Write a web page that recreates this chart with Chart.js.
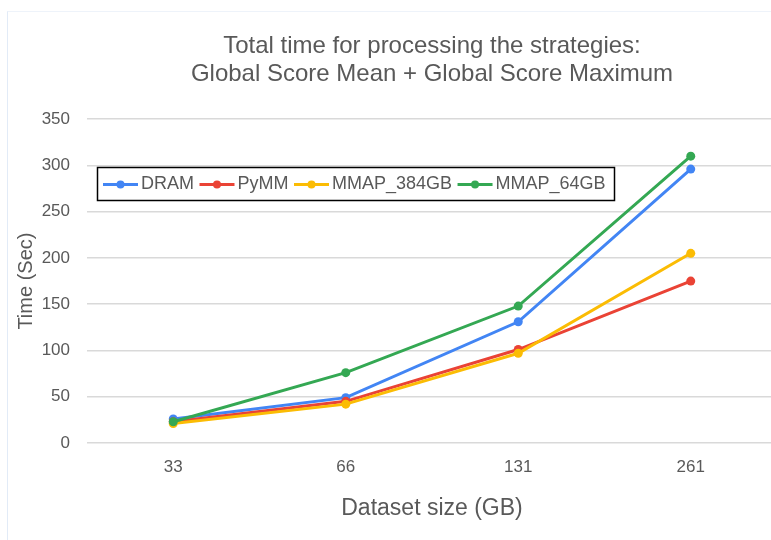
<!DOCTYPE html>
<html>
<head>
<meta charset="utf-8">
<script src="https://cdn.jsdelivr.net/npm/chart.js@4"></script>
<style>
  html, body { margin: 0; padding: 0; background: #fff; overflow: hidden; }
  #wrap { position: relative; width: 771px; height: 540px; overflow: hidden; }
  #frame { position: absolute; left: 7px; top: 11px; right: -2px; bottom: -2px;
           border-left: 1px solid #e2ebf7; border-top: 1px solid #eef3fa; pointer-events: none; }
</style>
</head>
<body>
<div id="wrap">
  <canvas id="timeChart" width="800" height="540"></canvas>
  <div id="frame"></div>
</div>
<script>
const sizes = ['33', '66', '131', '261'];
const dram = [26, 49, 131, 296];
const pymm = [23, 45, 101, 175];
const mmap384 = [21, 42, 97, 205];
const mmap64 = [23, 76, 148, 310];

const FONT = "'Liberation Sans', Arial, sans-serif";
const GREY = '#595959';

function series(label, data, color, order) {
    return {
        label, data, order,
        borderColor: color,
        backgroundColor: color,
        borderWidth: 3,
        pointRadius: 4.5,
        pointBorderWidth: 0,
        tension: 0
    };
}

// legend drawn in a box inside the plot, like the original
const boxLegend = {
    id: 'boxLegend',
    afterDatasetsDraw(chart) {
        const ctx = chart.ctx;
        const x0 = 97.5, y0 = 167.5, w = 517, h = 33;
        ctx.save();
        ctx.strokeStyle = '#000';
        ctx.lineWidth = 1.5;
        ctx.strokeRect(x0, y0, w, h);
        ctx.font = `18px ${FONT}`;
        ctx.textBaseline = 'middle';
        ctx.fillStyle = GREY;
        let x = 103;
        const cy = y0 + h / 2 + 0.5;
        chart.data.datasets.forEach(ds => {
            ctx.strokeStyle = ds.borderColor;
            ctx.lineWidth = 3;
            ctx.beginPath();
            ctx.moveTo(x, cy);
            ctx.lineTo(x + 35, cy);
            ctx.stroke();
            ctx.fillStyle = ds.borderColor;
            ctx.beginPath();
            ctx.arc(x + 17.5, cy, 4, 0, Math.PI * 2);
            ctx.fill();
            x += 38;
            ctx.fillStyle = GREY;
            ctx.fillText(ds.label, x, cy);
            x += ctx.measureText(ds.label).width + 5.5;
        });
        ctx.restore();
    }
};

new Chart(document.getElementById('timeChart'), {
    type: 'line',
    data: {
        labels: sizes,
        datasets: [
            series('DRAM', dram, '#4285f4', 4),
            series('PyMM', pymm, '#ea4335', 3),
            series('MMAP_384GB', mmap384, '#fbbc04', 2),
            series('MMAP_64GB', mmap64, '#34a853', 1)
        ]
    },
    plugins: [boxLegend],
    options: {
        responsive: false,
        devicePixelRatio: 1,
        animation: false,
        layout: { padding: { left: 0, right: 23, top: 0, bottom: 0 } },
        plugins: {
            legend: { display: false },
            tooltip: { enabled: false },
            title: {
                display: true,
                fullSize: false,
                text: ['Total time for processing the strategies:', 'Global Score Mean + Global Score Maximum'],
                color: GREY,
                font: { family: FONT, size: 24, weight: 'normal', lineHeight: 1.17 },
                padding: { top: 32, bottom: 31 }
            }
        },
        scales: {
            x: {
                offset: true,
                grid: { display: false, drawTicks: false, offset: true },
                border: { display: false },
                ticks: { color: GREY, font: { family: FONT, size: 17 }, padding: 14 },
                title: {
                    display: true, text: 'Dataset size (GB)', color: GREY,
                    font: { family: FONT, size: 23 }, padding: { top: 0, bottom: 18 }
                },
                afterFit(scale) { scale.height = 97; }
            },
            y: {
                min: 0, max: 350,
                grid: { color: '#d9d9d9', lineWidth: 1.5, drawTicks: false },
                border: { display: false },
                ticks: { stepSize: 50, color: GREY, font: { family: FONT, size: 17 }, padding: 17 },
                title: {
                    display: true, text: 'Time (Sec)', color: GREY,
                    font: { family: FONT, size: 20 }, padding: { top: 14, bottom: 0 }
                },
                afterFit(scale) { scale.width = 87; }
            }
        }
    }
});
</script>
</body>
</html>
